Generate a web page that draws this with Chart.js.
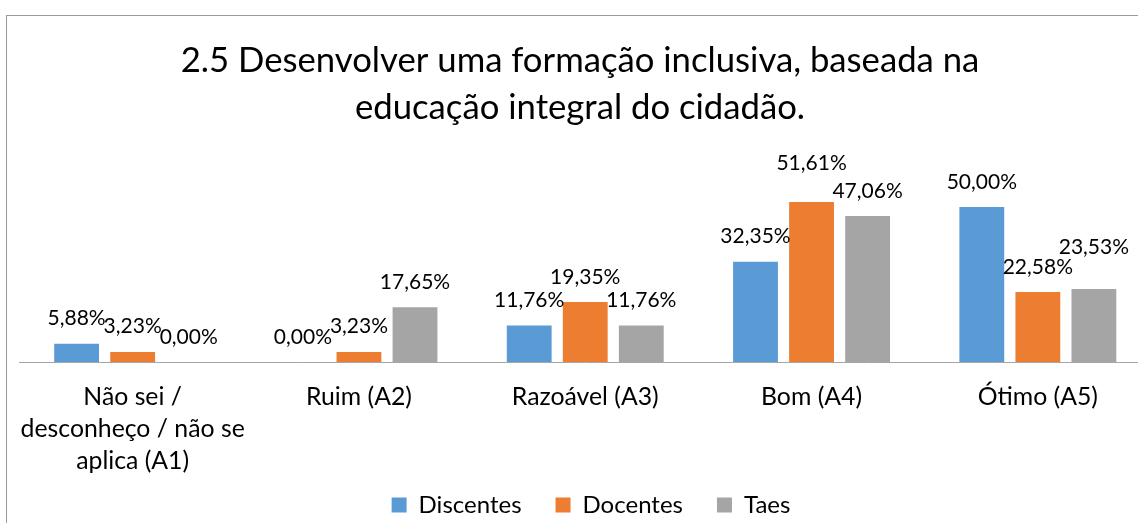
<!DOCTYPE html>
<html>
<head>
<meta charset="utf-8">
<script src="https://cdn.jsdelivr.net/npm/chart.js@4.4.1/dist/chart.umd.min.js"></script>
<style>
  html, body { margin: 0; padding: 0; background: #fff; overflow: hidden; width: 1138px; height: 523px; }
  #frame { position: absolute; left: 6px; top: 15px; width: 1200px; height: 560px;
           border-left: 1px solid #9a9a9a; border-top: 1px solid #9a9a9a; }
  #c { position: absolute; left: 0; top: 0; }
</style>
</head>
<body>
<div id="frame"><canvas id="c" width="1144" height="530"></canvas></div>
<script>
const titleLines = ["2.5 Desenvolver uma formação inclusiva, baseada na", "educação integral do cidadão."];
const categories = [
  ["Não sei /", "desconheço / não se", "aplica (A1)"],
  "Ruim (A2)",
  "Razoável (A3)",
  "Bom (A4)",
  "Ótimo (A5)"
];
const seriesNames = ["Discentes", "Docentes", "Taes"];
const discentes = [5.88, 0.00, 11.76, 32.35, 50.00];
const docentes  = [3.23, 3.23, 19.35, 51.61, 22.58];
const taes      = [0.00, 17.65, 11.76, 47.06, 23.53];
const seriesColors = ["#5B9BD5", "#ED7D31", "#A5A5A5"];
const yMin = 0, yMax = 60;

const FONT = "Lato, 'Open Sans', sans-serif";

// extra upward nudge (px) for labels that were moved apart in the original
const labelNudge = { "1,3": 14, "2,4": 17 };

const valueLabels = {
  id: 'valueLabels',
  afterDatasetsDraw(chart) {
    const ctx = chart.ctx;
    ctx.save();
    ctx.font = "21px " + FONT;
    ctx.fillStyle = "#000";
    ctx.textAlign = "center";
    ctx.textBaseline = "alphabetic";
    chart.data.datasets.forEach((ds, i) => {
      const meta = chart.getDatasetMeta(i);
      meta.data.forEach((el, j) => {
        const v = ds.data[j];
        const extra = labelNudge[i + "," + j] || 0;
        ctx.fillText(v.toFixed(2).replace('.', ',') + '%', el.x, el.y - 18.5 - extra);
      });
    });
    ctx.restore();
  }
};

// move the legend block to where the original places it
const legendPlace = {
  id: 'legendPlace',
  afterLayout(chart) {
    const l = chart.legend;
    if (!l) return;
    l.top -= 18.5; l.bottom -= 18.5;
    l.left += 11; l.right += 11;
  }
};

new Chart(document.getElementById('c'), {
  type: 'bar',
  data: {
    labels: categories,
    datasets: [
      { label: seriesNames[0], data: discentes, backgroundColor: seriesColors[0] },
      { label: seriesNames[1], data: docentes, backgroundColor: seriesColors[1] },
      { label: seriesNames[2], data: taes, backgroundColor: seriesColors[2] }
    ]
  },
  options: {
    responsive: false,
    animation: false,
    devicePixelRatio: 1,
    layout: { padding: { left: 2, right: 0, top: 21.5, bottom: 0.5 } },
    datasets: { bar: { categoryPercentage: 0.743, barPercentage: 0.80 } },
    scales: {
      x: {
        grid: { display: false, drawTicks: false },
        border: { display: true, color: "#a6a6a6", width: 1 },
        ticks: { color: "#000", font: { family: FONT, size: 24.8, lineHeight: 1.29 }, padding: 19.5, maxRotation: 0, autoSkip: false },
        afterFit(scale) { scale.paddingLeft = 0; scale.paddingRight = 0; scale.height = 115.5; }
      },
      y: {
        display: true, min: yMin, max: yMax,
        grid: { display: false, drawTicks: false },
        border: { display: false },
        ticks: { display: false },
        afterFit(scale) { scale.width = 10.5; }
      }
    },
    plugins: {
      title: {
        display: true,
        text: titleLines,
        color: "#000",
        font: { family: FONT, size: 34.7, weight: 'normal', lineHeight: 47 / 34.7 },
        padding: { top: 0, bottom: 44.5 }
      },
      legend: {
        position: 'bottom',
        labels: { color: "#000", font: { family: FONT, size: 24 }, boxWidth: 15, boxHeight: 15, padding: 34 }
      },
      tooltip: { enabled: false }
    }
  },
  plugins: [valueLabels, legendPlace]
});
</script>
</body>
</html>
